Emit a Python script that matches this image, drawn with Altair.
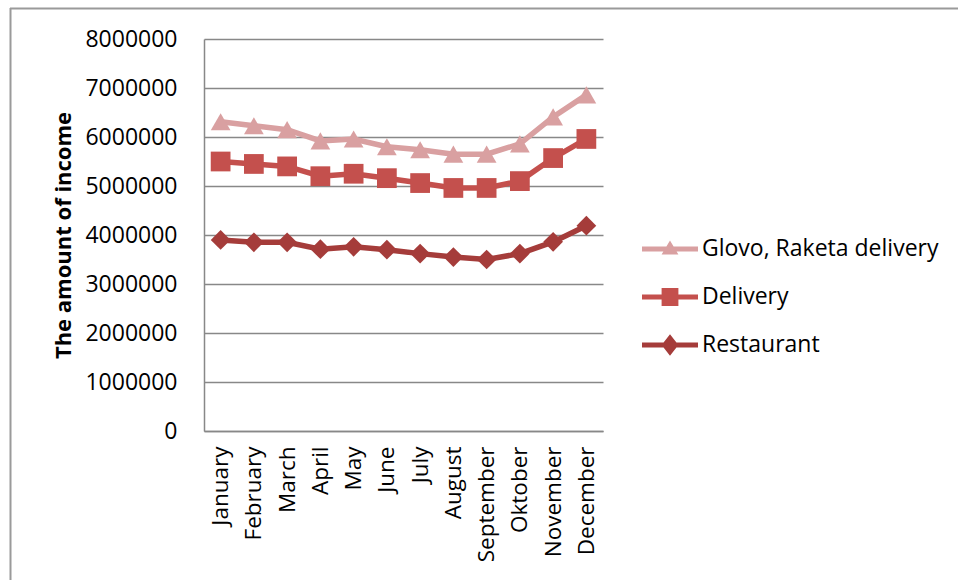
import altair as alt
import pandas as pd

months = ["January", "February", "March", "April", "May", "June", "July",
          "August", "September", "Oktober", "November", "December"]
glovo = [6310000, 6230000, 6150000, 5920000, 5960000, 5800000, 5740000,
         5650000, 5650000, 5860000, 6410000, 6860000]
delivery = [5500000, 5450000, 5400000, 5200000, 5250000, 5160000, 5060000,
            4960000, 4960000, 5100000, 5570000, 5960000]
restaurant = [3900000, 3850000, 3850000, 3710000, 3760000, 3700000, 3620000,
              3550000, 3500000, 3620000, 3860000, 4190000]
series = ["Glovo, Raketa delivery", "Delivery", "Restaurant"]
colors = ["#D9A0A1", "#C4504D", "#A53C3A"]
shapes = ["triangle-up", "square", "diamond"]
y_ticks = [0, 1000000, 2000000, 3000000, 4000000, 5000000, 6000000, 7000000, 8000000]

rows = []
for name, vals in zip(series, [glovo, delivery, restaurant]):
    for m, v in zip(months, vals):
        rows.append({"month": m, "series": name, "value": v})
df = pd.DataFrame(rows)

FONT = "Open Sans"
GRID = "#888888"

# legend symbols: a line segment with the series marker on it
bar = "M-1,-0.09H1V0.09H-1Z "
legend_shapes = [
    bar + "M-0.3,0.2L0,-0.3L0.3,0.2Z",
    bar + "M-0.3,-0.32H0.3V0.32H-0.3Z",
    bar + "M0,-0.38L0.3,0L0,0.38L-0.3,0Z",
]

color_scale = alt.Scale(domain=series, range=colors)

x = alt.X("month:N", sort=months,
          scale=alt.Scale(type="point", padding=0.5),
          axis=alt.Axis(title=None, labelAngle=270, labelFont=FONT, labelFontSize=22.5,
                        labelColor="black", labelPadding=15, ticks=False, grid=False,
                        domainColor=GRID, domainWidth=1.5, labelOverlap=False))
y = alt.Y("value:Q", scale=alt.Scale(domain=[0, 8000000], nice=False),
          axis=alt.Axis(values=y_ticks, format="d", title="The amount of income",
                        titleFont=FONT, titleFontSize=22, titleFontWeight="bold",
                        titleColor="black", titleX=-134, titleY=196,
                        titleBaseline="alphabetic",
                        labelFont=FONT, labelFontSize=23, labelColor="black",
                        labelPadding=27, ticks=False, grid=True, gridColor=GRID,
                        gridWidth=1.5, domainColor=GRID, domainWidth=1.5))

legend = alt.Legend(
    title=None, orient="none", legendX=438, legendY=182, padding=0,
    symbolSize=3136, symbolStrokeWidth=0, symbolOpacity=1,
    labelFont=FONT, labelFontSize=23, labelColor="black", labelOffset=4,
    labelLimit=400, rowPadding=8,
)

base = alt.Chart(df)
lines = base.mark_line(strokeWidth=5.5).encode(
    x=x, y=y, color=alt.Color("series:N", scale=color_scale, legend=None))
points = base.mark_point(filled=True, opacity=1, size=390).encode(
    x=x, y=y,
    color=alt.Color("series:N", scale=color_scale, legend=None),
    shape=alt.Shape("series:N", scale=alt.Scale(domain=series, range=shapes), legend=None),
)
carrier = base.mark_point(filled=True, opacity=0).encode(
    x=x, y=y,
    color=alt.Color("series:N", scale=color_scale, legend=legend),
    shape=alt.Shape("series:N", scale=alt.Scale(domain=series, range=legend_shapes),
                    legend=legend),
)

frame_df = pd.DataFrame({"k": [0]})
top_rule = alt.Chart(frame_df).mark_rule(color="#9a9a9a", strokeWidth=2).encode(
    x=alt.value(-194), x2=alt.value(760), y=alt.value(-30.5))
left_rule = alt.Chart(frame_df).mark_rule(color="#9a9a9a", strokeWidth=2).encode(
    x=alt.value(-193.5), y=alt.value(-31), y2=alt.value(545))

chart = alt.layer(lines, points, carrier, top_rule, left_rule).resolve_scale(
    color="independent", shape="independent"
).properties(
    width=399, height=392,
    autosize=alt.AutoSizeParams(type="none"),
    padding={"left": 204, "top": 39, "right": 355, "bottom": 149},
    background="white",
).configure_view(strokeOpacity=0)

chart.save("out.html", embed_options={"renderer": "svg", "actions": False})
